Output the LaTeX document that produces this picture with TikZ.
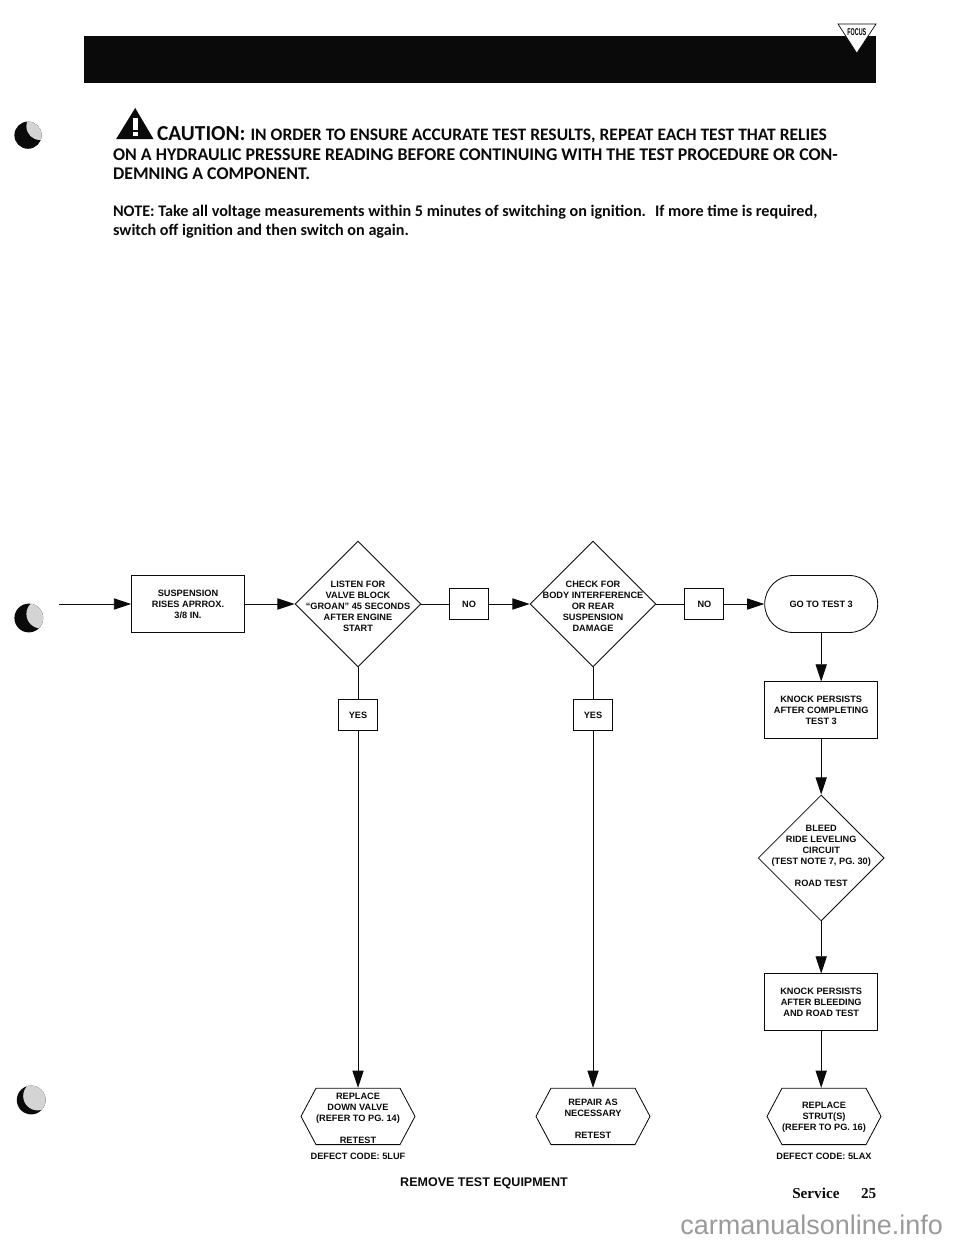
\documentclass[tikz,border=0pt]{standalone}
\usepackage{fontspec}
\setmainfont{Liberation Sans}
\newfontfamily\headfont{Carlito}
\newfontfamily\pagefont{Liberation Serif}
\usetikzlibrary{arrows.meta, shapes.geometric, shapes.misc, shapes.symbols}
\definecolor{PageInk}{HTML}{0A0A0A}
\definecolor{MarkGray}{HTML}{D4D4D4}
\definecolor{WaterGray}{HTML}{9A9A9A}
\tikzset{
  flowtext/.style={align=center, inner sep=0pt, text=PageInk,
                font=\fontsize{6.55}{7.85}\selectfont\bfseries},
  flowbox/.style={rectangle, draw=PageInk, line width=0.6pt, fill=white, flowtext,
                minimum width=2.825cm, minimum height=1.425cm},
  answerbox/.style={flowbox, minimum width=0.975cm, minimum height=0.79cm},
  flowdiamond/.style={diamond, draw=PageInk, line width=0.6pt, inner sep=0pt, aspect=1,
                minimum width=3.15cm, minimum height=3.15cm},
  flowhex/.style={signal, signal to=west and east, signal pointer angle=124,
                draw=PageInk, line width=0.6pt, inner sep=0pt,
                minimum width=2.85cm, minimum height=1.41cm},
  flowend/.style={rounded rectangle, draw=PageInk, line width=0.6pt, flowtext,
                minimum width=2.825cm, minimum height=1.425cm},
  headline/.style={anchor=base west, inner sep=0pt, text=PageInk,
                font=\headfont\fontsize{12.7}{14}\selectfont\bfseries},
  noteline/.style={headline, font=\headfont\fontsize{11.5}{14}\selectfont\bfseries},
  flowarrow/.style={-{Triangle[length=0.43cm, width=0.28cm]}, line width=0.6pt, PageInk},
  flowline/.style={line width=0.6pt, PageInk},
}

\begin{document}
\begin{tikzpicture}
    \useasboundingbox (0,0) rectangle (24,-31.1);

    % Page header
    \fill[PageInk] (2.1,-0.9) rectangle (21.9,-2.08);
    \filldraw[fill=white, draw=PageInk, line width=0.5pt] (20.95,-0.6) -- (21.9,-0.6) -- (21.42,-1.33) -- cycle;
    \node[inner sep=0pt, font=\fontsize{7}{7}\selectfont\bfseries, xscale=0.55] (focus) at (21.42,-0.8) {FOCUS};

    % Punch marks
    \foreach \hx/\hy/\hr/\lx/\ly in {0.7/-3.38/0.34/0.3/0.22, 0.72/-15.45/0.36/0.3/0.1, 0.78/-27.5/0.36/0.16/0.1} {
        \fill[PageInk] (\hx,\hy) circle (\hr);
        \begin{scope}
            \clip (\hx,\hy) circle (\hr);
            \fill[MarkGray] (\hx+\lx,\hy+\ly) circle (\hr);
        \end{scope}
    }

    % Caution and note
    \fill[PageInk] (3.38,-2.7) -- (3.84,-3.48) -- (2.9,-3.48) -- cycle;
    \fill[white] (3.32,-2.95) rectangle (3.44,-3.24);
    \fill[white] (3.32,-3.3) rectangle (3.44,-3.41);
    \node[headline, font=\headfont\fontsize{12.45}{14}\selectfont\bfseries] (caution) at (3.92,-3.52) {{\fontsize{15.2}{16}\selectfont CAUTION:}\hspace{3.5pt}IN ORDER TO ENSURE ACCURATE TEST RESULTS, REPEAT EACH TEST THAT RELIES};
    \node[headline] (cautionb) at (2.82,-4.02) {ON A HYDRAULIC PRESSURE READING BEFORE CONTINUING WITH THE TEST PROCEDURE OR CON-};
    \node[headline] (cautionc) at (2.82,-4.48) {DEMNING A COMPONENT.};
    \node[noteline] (note) at (2.82,-5.42) {NOTE: Take all voltage measurements within 5 minutes of switching on ignition.\hspace{3pt} If more time is required,};
    \node[noteline] (noteb) at (2.82,-5.9) {switch off ignition and then switch on again.};

    % Top row
    \coordinate (entry) at (1.48,-15.1);
    \node[flowbox] (rises) at (4.7,-15.1) {SUSPENSION\\RISES APRROX.\\3/8 IN.};
    \node[flowdiamond] (groan) at (8.95,-15.1) {};
    \node[flowtext] (groantext) at (8.95,-15.15) {LISTEN FOR\\VALVE BLOCK\\“GROAN” 45 SECONDS\\AFTER ENGINE\\START};
    \node[answerbox] (groanno) at (11.725,-15.1) {NO};
    \node[flowdiamond] (body) at (14.825,-15.1) {};
    \node[flowtext] (bodytext) at (14.825,-15.15) {CHECK FOR\\BODY INTERFERENCE\\OR REAR\\SUSPENSION\\DAMAGE};
    \node[answerbox] (bodyno) at (17.61,-15.1) {NO};
    \node[flowend] (gotest) at (20.53,-15.1) {GO TO TEST 3};

    % Answer boxes under the diamonds
    \node[answerbox] (groanyes) at (8.95,-17.875) {YES};
    \node[answerbox] (bodyyes) at (14.825,-17.875) {YES};

    % Right column
    \node[flowbox] (knocka) at (20.53,-17.76) {KNOCK PERSISTS\\AFTER COMPLETING\\TEST 3};
    \node[flowdiamond] (bleed) at (20.53,-21.45) {};
    \node[flowtext] (bleedtext) at (20.53,-21.39) {BLEED\\RIDE LEVELING\\CIRCUIT\\(TEST NOTE 7, PG. 30)\\[7.85pt]ROAD TEST};
    \node[flowbox] (knockb) at (20.53,-25.06) {KNOCK PERSISTS\\AFTER BLEEDING\\AND ROAD TEST};

    % Bottom row
    \node[flowhex] (valve) at (8.95,-27.91) {};
    \node[flowtext] (valvetext) at (8.95,-27.95) {REPLACE\\DOWN VALVE\\(REFER TO PG. 14)\\[7.85pt]RETEST};
    \node[flowhex] (repair) at (14.825,-27.91) {};
    \node[flowtext] (repairtext) at (14.825,-27.96) {REPAIR AS\\NECESSARY\\[7.85pt]RETEST};
    \node[flowhex] (strut) at (20.6,-27.91) {};
    \node[flowtext] (struttext) at (20.6,-27.93) {REPLACE\\STRUT(S)\\(REFER TO PG. 16)};
    \node[flowtext] (codevalve) at (8.95,-28.9) {DEFECT CODE: 5LUF};
    \node[flowtext] (codestrut) at (20.6,-28.9) {DEFECT CODE: 5LAX};

    \draw[flowarrow] (entry) -- (rises.west);
    \draw[flowarrow] (rises.east) -- (groan.west);
    \draw[flowline] (groan.east) -- (groanno.west);
    \draw[flowarrow] (groanno.east) -- (body.west);
    \draw[flowline] (body.east) -- (bodyno.west);
    \draw[flowarrow] (bodyno.east) -- (gotest.west);
    \draw[flowline] (groan.south) -- (groanyes.north);
    \draw[flowline] (body.south) -- (bodyyes.north);
    \draw[flowarrow] (groanyes.south) -- (valve.north);
    \draw[flowarrow] (bodyyes.south) -- (repair.north);
    \draw[flowarrow] (gotest.south) -- (knocka.north);
    \draw[flowarrow] (knocka.south) -- (bleed.north);
    \draw[flowarrow] (bleed.south) -- (knockb.north);
    \draw[flowarrow] (knockb.south) -- (knockb.south |- strut.north);

    % Footer
    \node[inner sep=0pt, text=PageInk, font=\fontsize{8.9}{10}\selectfont\bfseries] (remove) at (12.1,-29.58) {REMOVE TEST EQUIPMENT};
    \node[anchor=base west, inner sep=0pt, text=PageInk, font=\pagefont\fontsize{10.8}{12}\selectfont\bfseries] (service) at (19.8,-29.95) {Service};
    \node[anchor=base west, inner sep=0pt, text=PageInk, font=\pagefont\fontsize{10.8}{12}\selectfont\bfseries] (pagenum) at (21.52,-29.95) {25};
    \node[anchor=base east, inner sep=0pt, text=WaterGray, font=\fontsize{19.2}{22}\selectfont] (watermark) at (23.58,-30.85) {carmanualsonline.info};
\end{tikzpicture}
\end{document}
